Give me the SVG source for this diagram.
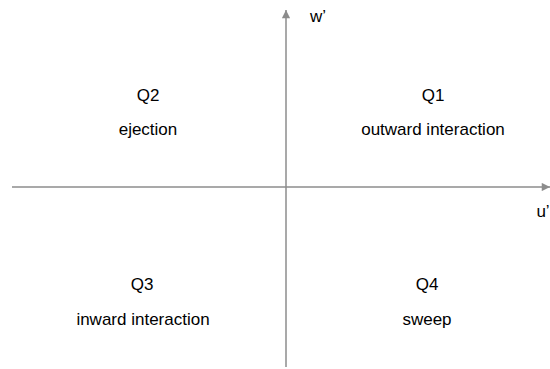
<svg xmlns="http://www.w3.org/2000/svg" width="550" height="369" viewBox="0 0 550 369">
  <style>
    .axis { stroke: #8c8c8c; stroke-width: 1.5; fill: none; }
    .lbl { font-family: "Liberation Sans", Arial, sans-serif; font-size: 17px; fill: #000; text-anchor: middle; }
  </style>
  <defs>
    <marker id="arrow" viewBox="0 0 10 10" refX="10" refY="5" markerWidth="7" markerHeight="5.5" markerUnits="strokeWidth" orient="auto">
      <path d="M0,0 L10,5 L0,10 Z" fill="#8c8c8c"/>
    </marker>
  </defs>
  <rect width="550" height="369" fill="#fff"/>
  <g id="connectors">
    <line class="axis" x1="12" y1="187" x2="550" y2="187" marker-end="url(#arrow)"/>
    <line class="axis" x1="286" y1="367" x2="286" y2="10" marker-end="url(#arrow)"/>
  </g>
  <g id="axis-labels">
    <text class="lbl" x="318" y="22">w’</text>
    <text class="lbl" x="543" y="217">u’</text>
  </g>
  <g id="q1">
    <text class="lbl" x="433" y="101">Q1</text>
    <text class="lbl" x="433" y="135">outward interaction</text>
  </g>
  <g id="q2">
    <text class="lbl" x="148" y="101">Q2</text>
    <text class="lbl" x="148" y="135">ejection</text>
  </g>
  <g id="q3">
    <text class="lbl" x="142" y="290">Q3</text>
    <text class="lbl" x="143" y="325">inward interaction</text>
  </g>
  <g id="q4">
    <text class="lbl" x="427" y="290">Q4</text>
    <text class="lbl" x="427" y="325">sweep</text>
  </g>
</svg>
